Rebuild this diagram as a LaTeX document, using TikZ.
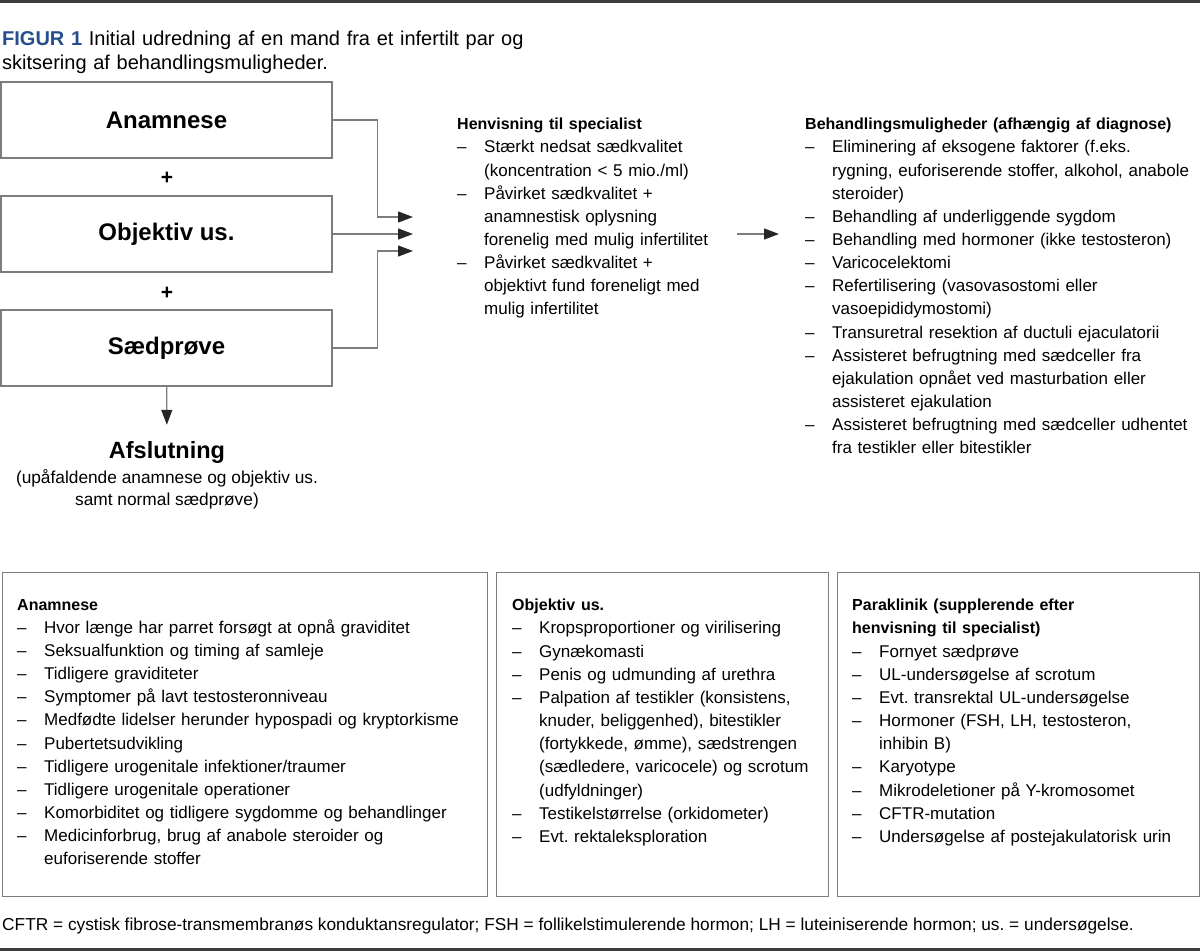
\documentclass[tikz,border=0pt]{standalone}
\usepackage{fontspec}
\setmainfont{Liberation Sans}
\usetikzlibrary{positioning,arrows.meta}
\definecolor{figblue}{RGB}{38,78,140}
\definecolor{boxgray}{RGB}{125,125,125}
\definecolor{rulegray}{RGB}{60,60,60}
\setlength{\parindent}{0pt}
\frenchspacing
\newcommand{\hd}[1]{{\fontsize{16}{23.15}\selectfont\bfseries #1}\par}
\newcommand{\itm}[1]{\hangindent=27pt\hangafter=1\noindent\makebox[27pt][l]{–}#1\par}
\tikzset{
  bigbox/.style={draw=boxgray,line width=1.3pt,minimum width=331pt,minimum height=76pt,inner sep=0pt,font=\fontsize{24}{28}\selectfont\bfseries},
  infobox/.style={draw=boxgray,line width=1.3pt,anchor=north west,inner sep=0pt},
  lst/.style={anchor=north west,inner sep=0pt,align=left,font=\fontsize{17}{23.15}\selectfont},
  conn/.style={draw=boxgray,line width=1.3pt,-{Triangle[length=15pt,width=11pt,color=black!85]}},
  plus/.style={font=\fontsize{21}{24}\selectfont\bfseries},
  every picture/.style={x=1pt,y=-1pt}
}
\begin{document}
\begin{tikzpicture}
\useasboundingbox (0,0) rectangle (1200,951);
\draw[rulegray,line width=3pt] (0,1.5) -- (1200,1.5);
\draw[rulegray,line width=3pt] (0,949.5) -- (1200,949.5);
% title
\node[lst,font=\fontsize{20}{24}\selectfont,text width=600pt] (ttl) at (2,31)
  {\textcolor{figblue}{\bfseries FIGUR 1} Initial udredning af en mand fra et infertilt par og\newline skitsering af behandlingsmuligheder.};
% flow on the left
\node[bigbox] (anam) at (166.5,120) {Anamnese};
\node[plus] (p1) at (167,178) {+};
\node[bigbox] (obj) at (166.5,234) {Objektiv us.};
\node[plus] (p2) at (167,293) {+};
\node[bigbox] (saed) at (166.5,348) {Sædprøve};
\node[font=\fontsize{23.5}{28}\selectfont\bfseries,inner sep=0pt] (afsl) at (167,452) {Afslutning};
\node[align=center,inner sep=0pt,font=\fontsize{17.3}{22}\selectfont] (afslsub) at (167,489.5)
  {(upåfaldende anamnese og objektiv us.\\samt normal sædprøve)};
\draw[conn,shorten >=16pt] (saed) -- (afsl);
% lists at the top
\node[lst,text width=280pt] (henv) at (457,118) {\hd{Henvisning til specialist}
  \itm{Stærkt nedsat sædkvalitet\newline (koncentration < 5 mio./ml)}
  \itm{Påvirket sædkvalitet +\newline anamnestisk oplysning\newline forenelig med mulig infertilitet}
  \itm{Påvirket sædkvalitet +\newline objektivt fund foreneligt med\newline mulig infertilitet}};
\node[lst,text width=420pt] (behand) at (805,118) {\hd{Behandlingsmuligheder (afhængig af diagnose)}
  \itm{Eliminering af eksogene faktorer (f.eks.\newline rygning, euforiserende stoffer, alkohol, anabole\newline steroider)}
  \itm{Behandling af underliggende sygdom}
  \itm{Behandling med hormoner (ikke testosteron)}
  \itm{Varicocelektomi}
  \itm{Refertilisering (vasovasostomi eller\newline vasoepididymostomi)}
  \itm{Transuretral resektion af ductuli ejaculatorii}
  \itm{Assisteret befrugtning med sædceller fra\newline ejakulation opnået ved masturbation eller\newline assisteret ejakulation}
  \itm{Assisteret befrugtning med sædceller udhentet\newline fra testikler eller bitestikler}};
% connectors
\coordinate (in1) at (413,217);
\coordinate (in2) at (413,234);
\coordinate (in3) at (413,251);
\draw[conn] (anam.east) -- ++(45,0) |- (in1);
\draw[conn] (obj.east) -- (in2);
\draw[conn] (saed.east) -- ++(45,0) |- (in3);
\draw[conn] (henv.west |- in2) ++(280,0) -- ([xshift=-26pt]behand.west |- in2);
% boxes at the bottom
\node[infobox,minimum width=485.5pt,minimum height=324pt] (boxA) at (1.5,572) {};
\node[infobox,minimum width=332pt,minimum height=324pt] (boxB) at (496,572) {};
\node[infobox,minimum width=361.5pt,minimum height=324pt] (boxC) at (837,572) {};
\node[lst,text width=465pt] (anamlst) at ([shift={(15.5,27)}]boxA.north west) {\hd{Anamnese}
  \itm{Hvor længe har parret forsøgt at opnå graviditet}
  \itm{Seksualfunktion og timing af samleje}
  \itm{Tidligere graviditeter}
  \itm{Symptomer på lavt testosteronniveau}
  \itm{Medfødte lidelser herunder hypospadi og kryptorkisme}
  \itm{Pubertetsudvikling}
  \itm{Tidligere urogenitale infektioner/traumer}
  \itm{Tidligere urogenitale operationer}
  \itm{Komorbiditet og tidligere sygdomme og behandlinger}
  \itm{Medicinforbrug, brug af anabole steroider og\newline euforiserende stoffer}};
\node[lst,text width=320pt] (objlst) at ([shift={(16,27)}]boxB.north west) {\hd{Objektiv us.}
  \itm{Kropsproportioner og virilisering}
  \itm{Gynækomasti}
  \itm{Penis og udmunding af urethra}
  \itm{Palpation af testikler (konsistens,\newline knuder, beliggenhed), bitestikler\newline (fortykkede, ømme), sædstrengen\newline (sædledere, varicocele) og scrotum\newline (udfyldninger)}
  \itm{Testikelstørrelse (orkidometer)}
  \itm{Evt. rektaleksploration}};
\node[lst,text width=350pt] (paralst) at ([shift={(15,27)}]boxC.north west) {\hd{Paraklinik (supplerende efter\newline henvisning til specialist)}
  \itm{Fornyet sædprøve}
  \itm{UL-undersøgelse af scrotum}
  \itm{Evt. transrektal UL-undersøgelse}
  \itm{Hormoner (FSH, LH, testosteron,\newline inhibin B)}
  \itm{Karyotype}
  \itm{Mikrodeletioner på Y-kromosomet}
  \itm{CFTR-mutation}
  \itm{Undersøgelse af postejakulatorisk urin}};
% footnote
\node[anchor=west,inner sep=0pt,font=\fontsize{17.3}{20}\selectfont] (fnote) at (2,926)
  {CFTR = cystisk fibrose-transmembranøs konduktansregulator; FSH = follikelstimulerende hormon; LH = luteiniserende hormon; us. = undersøgelse.};
\end{tikzpicture}
\end{document}
